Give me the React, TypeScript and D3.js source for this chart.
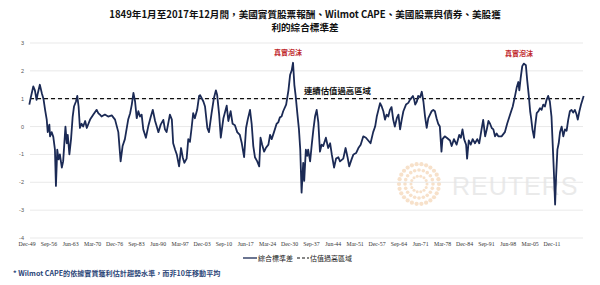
import React from "react";
import * as d3 from "d3";

const years = [
  1849.1, 1849.5, 1850.3, 1850.8, 1851.3, 1851.6, 1852.3, 1852.9, 1853.4, 1853.9, 1854.4, 1854.7, 1855.2, 1855.4, 1855.9, 1856.4, 1856.9, 1857.2, 1857.6, 1858.0,
  1858.4, 1859.0, 1859.4, 1860.1, 1860.5, 1860.8, 1861.3, 1861.8, 1862.3, 1862.7, 1863.3, 1863.7, 1864.1, 1864.5, 1865.0, 1865.5, 1866.1, 1866.6, 1867.1, 1867.6,
  1868.6, 1869.6, 1870.1, 1870.6, 1871.1, 1872.1, 1873.1, 1874.2, 1875.2, 1876.2, 1876.9, 1877.5, 1878.2, 1879.2, 1879.8, 1880.3, 1880.8, 1881.3, 1881.8, 1882.3,
  1882.8, 1883.3, 1883.8, 1884.6, 1885.3, 1886.1, 1886.7, 1887.4, 1887.9, 1888.4, 1889.1, 1889.9, 1890.4, 1890.9, 1891.9, 1892.5, 1892.9, 1893.5, 1894.0, 1894.7,
  1895.3, 1895.8, 1896.3, 1897.0, 1897.5, 1898.0, 1898.5, 1899.0, 1899.5, 1900.2, 1900.8, 1901.1, 1902.1, 1902.6, 1903.3, 1903.8, 1904.6, 1905.3, 1905.9, 1906.3,
  1906.9, 1907.4, 1908.2, 1909.2, 1909.7, 1910.4, 1911.0, 1911.7, 1912.4, 1913.2, 1913.8, 1914.5, 1915.1, 1915.6, 1916.3, 1916.8, 1917.3, 1917.8, 1918.5, 1919.1,
  1919.5, 1920.0, 1920.6, 1921.1, 1921.9, 1922.4, 1922.9, 1923.6, 1924.4, 1924.9, 1925.4, 1925.9, 1926.4, 1927.3, 1928.0, 1928.5, 1929.0, 1929.4, 1929.8, 1930.2,
  1930.7, 1931.2, 1931.6, 1932.0, 1932.5, 1932.8, 1933.3, 1933.7, 1934.0, 1934.6, 1935.1, 1935.6, 1936.1, 1936.6, 1937.1, 1937.6, 1938.1, 1938.6, 1939.4, 1940.1,
  1940.7, 1941.2, 1941.9, 1942.5, 1943.2, 1943.7, 1944.7, 1945.4, 1946.0, 1946.5, 1947.3, 1947.8, 1948.6, 1949.3, 1950.0, 1950.8, 1951.6, 1952.3, 1953.0, 1953.8,
  1954.4, 1954.9, 1955.4, 1955.9, 1956.4, 1956.9, 1957.4, 1957.9, 1958.4, 1958.9, 1959.4, 1959.9, 1960.4, 1961.0, 1961.5, 1962.0, 1962.5, 1963.0, 1963.8, 1964.5,
  1965.0, 1965.9, 1966.3, 1966.6, 1967.1, 1967.5, 1968.1, 1968.6, 1969.1, 1969.6, 1970.1, 1970.6, 1971.1, 1971.6, 1972.1, 1972.6, 1973.1, 1973.6, 1974.1, 1974.6,
  1974.9, 1975.6, 1976.2, 1977.2, 1977.7, 1978.4, 1979.2, 1980.0, 1980.5, 1981.0, 1981.5, 1982.1, 1982.4, 1982.9, 1983.5, 1984.1, 1984.8, 1985.5, 1986.1, 1986.8,
  1987.3, 1987.9, 1988.4, 1988.9, 1989.4, 1989.9, 1990.4, 1990.9, 1991.4, 1991.9, 1992.9, 1993.9, 1994.6, 1995.5, 1996.3, 1997.0, 1997.5, 1998.0, 1998.3, 1998.7,
  1999.2, 1999.7, 2000.3, 2000.7, 2001.2, 2001.6, 2001.9, 2002.3, 2002.8, 2003.1, 2003.6, 2004.1, 2004.6, 2005.1, 2005.6, 2006.1, 2006.6, 2007.1, 2007.6, 2008.1,
  2008.4, 2008.8, 2009.2, 2009.5, 2009.9, 2010.3, 2010.7, 2011.2, 2011.7, 2012.2, 2012.7, 2013.2, 2013.7, 2014.2, 2014.7, 2015.2, 2015.7, 2016.1, 2016.6, 2017.1,
  2017.9,
];

const values = [
  0.79, 1.02, 1.44, 1.3, 0.96, 1.15, 1.5, 1.2, 1.0, 0.6, 0.25, -0.2, 0.07, -0.35, -0.2, -0.37, -0.83, -2.13, -0.83, -1.18,
  -1.0, -1.47, -1.25, 0.0, -0.6, -0.3, -1.0, -0.45, 0.36, 0.72, 0.9, 1.1, 0.72, -0.05, 0.1, 0.0, 0.2, -0.05, 0.1, 0.25,
  0.43, 0.6, 0.48, 0.43, 0.36, 0.43, 0.36, 0.4, 0.25, -0.2, -1.25, -0.7, -0.45, 0.25, 0.48, 0.79, 1.21, 0.9, 0.3, 0.55,
  0.36, 0.43, -0.1, -0.4, 0.0, 0.36, 0.6, 0.2, 0.0, -0.2, 0.07, 0.24, -0.1, -0.2, 0.43, 0.25, -0.6, -0.83, -1.0, -1.43,
  -0.77, -1.1, -1.3, -1.15, -0.45, -0.55, -0.06, 0.48, 0.3, 0.6, 1.1, 1.13, 0.9, 0.72, -0.05, -0.2, 0.48, 1.02, 1.3, 1.13,
  0.43, -0.4, 0.3, 0.75, 0.2, 0.55, 0.1, 0.05, -0.2, -0.3, -0.6, -1.1, -0.05, 0.25, 0.6, 0.1, -0.7, -1.1, -1.25, -1.43,
  -0.4, -0.65, -0.9, -0.77, -0.65, -0.3, -0.45, -0.2, 0.1, 0.15, 0.33, 0.36, 0.55, 0.79, 1.3, 1.85, 2.02, 2.29, 1.5, 1.1,
  0.48, -0.1, -0.83, -2.37, -1.3, -1.95, -0.83, -1.05, -0.83, -1.25, -0.65, -0.1, 0.36, 0.6, 0.15, -0.9, -0.65, -0.7, -0.4, -0.77,
  -0.6, -1.0, -1.47, -1.15, -1.1, -1.25, -1.15, -0.77, -1.1, -1.43, -1.15, -1.0, -0.95, -0.77, -0.65, -0.35, -0.4, -0.5, -0.6, -0.2,
  0.0, 0.36, 0.6, 0.84, 0.72, 0.55, 0.25, 0.43, 0.36, 0.6, 0.7, 0.25, 0.0, 0.3, 0.43, -0.1, 0.25, 0.55, 0.79, 0.85,
  0.96, 1.1, 0.96, 0.79, 0.9, 1.1, 1.05, 1.25, 0.9, 0.36, -0.05, 0.3, 0.43, 0.55, 0.6, 0.55, 0.3, 0.1, 0.0, -0.9,
  -0.45, -0.35, -0.4, -0.5, -0.7, -0.45, -0.65, -0.3, -0.4, -0.1, -0.45, -0.65, -1.15, -0.5, -0.65, -0.45, -0.6, -0.45, -0.6, -0.1,
  0.24, -0.35, -0.1, 0.2, 0.1, -0.05, -0.1, -0.35, -0.25, -0.35, -0.35, -0.2, 0.1, 0.43, 0.72, 1.1, 1.4, 1.6, 1.3, 1.73,
  2.17, 2.26, 2.2, 1.67, 1.1, 0.55, 0.3, -0.1, -0.4, 0.0, 0.48, 0.55, 0.66, 0.6, 0.79, 0.72, 0.96, 1.1, 0.9, 0.36,
  -0.45, -1.55, -2.8, -1.8, -0.83, -0.6, -0.2, 0.0, -0.35, -0.1, -0.15, 0.25, 0.55, 0.6, 0.5, 0.6, 0.45, 0.25, 0.55, 0.79,
  1.1,
];

const yTicks = [3, 2, 1, 0, -1, -2, -3, -4];
const xTickLabels = [
  "Dec-49", "Sep-56", "Jun-63", "Mar-70", "Dec-76", "Sep-83", "Jun-90", "Mar-97", "Dec-03", "Sep-10",
  "Jun-17", "Mar-24", "Dec-30", "Sep-37", "Jun-44", "Mar-51", "Dec-57", "Sep-64", "Jun-71", "Mar-78",
  "Dec-84", "Sep-91", "Jun-98", "Mar-05", "Dec-11",
];
const threshold = 1;
const bubbles = [
  { year: 1929.4, value: 2.29, label: "真實泡沫" },
  { year: 1999.7, value: 2.26, label: "真實泡沫" },
];
const titleLines = [
  "1849年1月至2017年12月間，美國實質股票報酬、Wilmot CAPE、美國股票與債券、美股獲",
  "利的綜合標準差",
];
const zoneLabel = "連續估值過高區域";
const legendSeries = "綜合標準差";
const legendThreshold = "估值過高區域";
const footnote = "* Wilmot CAPE的依據實質獲利估計趨勢水準，而非10年移動平均";

export default function App() {
  const W = 600;
  const H = 285;
  const x = d3.scaleLinear().domain([1849, 2018]).range([29, 584]);
  const y = d3.scaleLinear().domain([-4, 3]).range([238, 43]);
  const xl = d3.scaleLinear().domain([0, xTickLabels.length - 1]).range([27, 552]);
  const pts = years.map((yr, i) => [yr, values[i]] as [number, number]);
  const line = d3
    .line<[number, number]>()
    .x((d) => x(d[0]))
    .y((d) => y(d[1]));
  const cjk = "'Noto Sans CJK TC', 'Noto Sans', sans-serif";
  const sunDots: { cx: number; cy: number; r: number }[] = [];
  for (let ring = 0; ring < 3; ring++) {
    const n = 14 + ring * 6;
    const rad = 8 + ring * 6;
    for (let k = 0; k < n; k++) {
      const a = (k / n) * Math.PI * 2;
      sunDots.push({ cx: 419 + rad * Math.cos(a), cy: 184 + rad * Math.sin(a), r: 1.5 + ring * 0.3 });
    }
  }
  return (
    <svg width={W} height={H} style={{ position: "absolute", left: 0, top: 0, background: "#fff" }}>
      <rect width={W} height={H} fill="#fff" />
      {titleLines.map((t, i) => (
        <text key={i} x={305} y={18 + i * 13} textAnchor="middle" fontFamily={cjk} fontWeight="bold" fontSize={9.6} fill="#111">
          {t}
        </text>
      ))}
      {/* watermark */}
      <g opacity={0.55}>
        {sunDots.map((d, i) => (
          <circle key={i} cx={d.cx} cy={d.cy} r={d.r} fill="#f2c9a0" />
        ))}
        <text x={452} y={195} fontFamily="'Liberation Sans', Arial, sans-serif" fontSize={25} fill="#d9d9d9" letterSpacing={1}>
          REUTERS
        </text>
      </g>
      {yTicks.map((t) => (
        <g key={t}>
          <line x1={30} x2={583} y1={y(t)} y2={y(t)} stroke="#e3e3e3" strokeWidth={0.8} />
          <text x={24} y={y(t) + 2} textAnchor="end" fontSize={5.5} fontFamily="'Liberation Sans', sans-serif" fill="#555">
            {t}
          </text>
        </g>
      ))}
      {xTickLabels.map((l, i) => (
        <text key={l} x={xl(i)} y={246} textAnchor="middle" fontSize={5.8} fontFamily="'Liberation Serif', serif" fill="#333">
          {l}
        </text>
      ))}
      <line x1={30} x2={583} y1={y(threshold)} y2={y(threshold)} stroke="#111" strokeWidth={1.3} strokeDasharray="4,3" />
      <path d={line(pts) || ""} fill="none" stroke="#1b2a55" strokeWidth={1.8} strokeLinejoin="round" />
      {bubbles.map((b, i) => (
        <text key={i} x={x(b.year) - 5} y={y(b.value) - 8} textAnchor="middle" fontFamily={cjk} fontWeight="bold" fontSize={7} fill="#c0282d">
          {b.label}
        </text>
      ))}
      <text x={304} y={93.5} fontFamily={cjk} fontWeight="bold" fontSize={8.4} fill="#111">
        {zoneLabel}
      </text>
      {/* legend */}
      <line x1={243} x2={257} y1={258} y2={258} stroke="#1b2a55" strokeWidth={1.3} />
      <text x={258} y={260.5} fontFamily={cjk} fontSize={7} fill="#222">{legendSeries}</text>
      <line x1={297} x2={309} y1={258} y2={258} stroke="#111" strokeWidth={1.1} strokeDasharray="3,2" />
      <text x={310} y={260.5} fontFamily={cjk} fontSize={7} fill="#222">{legendThreshold}</text>
      <text x={13} y={276} fontFamily={cjk} fontWeight="bold" fontSize={7.1} fill="#2a4577">
        {footnote}
      </text>
    </svg>
  );
}
